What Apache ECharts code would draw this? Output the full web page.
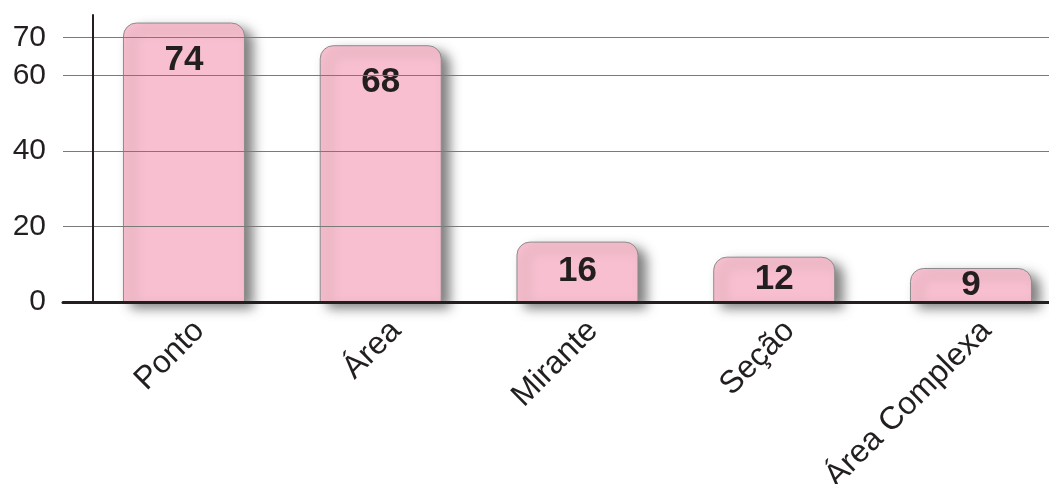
<!DOCTYPE html>
<html>
<head>
<meta charset="utf-8">
<script src="https://cdn.jsdelivr.net/npm/echarts@6/dist/echarts.min.js"></script>
<style>
html,body{margin:0;padding:0;background:#fff;overflow:hidden;width:1049px;height:484px;}
#chart{width:1110px;height:484px;}
</style>
</head>
<body>
<div id="chart"></div>
<script>
const categories = ['Ponto', 'Área', 'Mirante', 'Seção', 'Área Complexa'];
const values = [74, 68, 16, 12, 9];
const yTickLabels = [0, 20, 40, 60, 70];
const gridLineValues = [20, 40, 60, 70];
const yMax = 76;

const FONT = '"Liberation Sans", Arial, sans-serif';
const INK = '#231f20';

const chart = echarts.init(document.getElementById('chart'), null, {renderer: 'canvas'});

const barData = values.map(v => ({
  value: v,
  label: v > 30 ? {position: 'insideTop', distance: 20} : {position: 'inside'}
}));

const gridBase = {top: 15, bottom: 182, containLabel: false, outerBoundsMode: 'none'};

chart.setOption({
  animation: false,
  backgroundColor: '#ffffff',
  grid: [
    Object.assign({left: 63, width: 1040}, gridBase),
    Object.assign({left: 85.6, width: 983.75}, gridBase),
    Object.assign({left: 93, width: 1000}, gridBase),
    Object.assign({left: 101, width: 983.75}, gridBase)
  ],
  xAxis: [
    {gridIndex: 0, type: 'value', min: 0, max: 1, z: 6,
     axisLine: {show: true, lineStyle: {color: INK, width: 3}},
     axisTick: {show: false}, axisLabel: {show: false}, splitLine: {show: false}},
    {gridIndex: 1, type: 'category', data: categories,
     axisLine: {show: false}, axisTick: {show: false}, axisLabel: {show: false}},
    {gridIndex: 2, type: 'value', show: false, min: 0, max: 1},
    {gridIndex: 3, type: 'category', data: categories,
     axisLine: {show: false}, axisTick: {show: false},
     axisLabel: {rotate: 45, fontSize: 32, color: INK, fontFamily: FONT, margin: 24, interval: 0,
       hideOverlap: false}}
  ],
  yAxis: [
    {gridIndex: 0, type: 'value', min: 0, max: yMax, interval: 10,
     axisLine: {show: false}, axisTick: {show: false}, splitLine: {show: false},
     axisLabel: {fontSize: 30, color: INK, fontFamily: FONT, margin: 17,
       formatter: v => (yTickLabels.indexOf(v) >= 0 ? String(v) : '')}},
    {gridIndex: 1, type: 'value', min: 0, max: yMax, show: false},
    {gridIndex: 2, type: 'value', min: 0, max: yMax, z: 6,
     axisLine: {show: true, lineStyle: {color: INK, width: 2}},
     axisTick: {show: false}, axisLabel: {show: false}, splitLine: {show: false}},
    {gridIndex: 3, type: 'value', min: 0, max: yMax, show: false}
  ],
  series: [
    {type: 'line', xAxisIndex: 0, yAxisIndex: 0, data: [[0, 0]], symbol: 'none',
     lineStyle: {opacity: 0}, silent: true, z: 1,
     markLine: {silent: true, symbol: 'none', label: {show: false},
       lineStyle: {color: '#7a7a7a', width: 1, type: 'solid'},
       data: gridLineValues.map(v => ({yAxis: v}))}},
    {type: 'bar', xAxisIndex: 1, yAxisIndex: 1, data: barData, barWidth: 122, z: 3,
     itemStyle: {color: '#F7BFCF', borderColor: '#8c8c8c', borderWidth: 1,
       borderRadius: [13, 13, 0, 0],
       shadowBlur: 12, shadowOffsetX: 8, shadowOffsetY: 6, shadowColor: 'rgba(0,0,0,0.5)'},
     label: {show: true, fontSize: 35, fontWeight: 'bold', color: INK, fontFamily: FONT}}
  ]
});
</script>
</body>
</html>
